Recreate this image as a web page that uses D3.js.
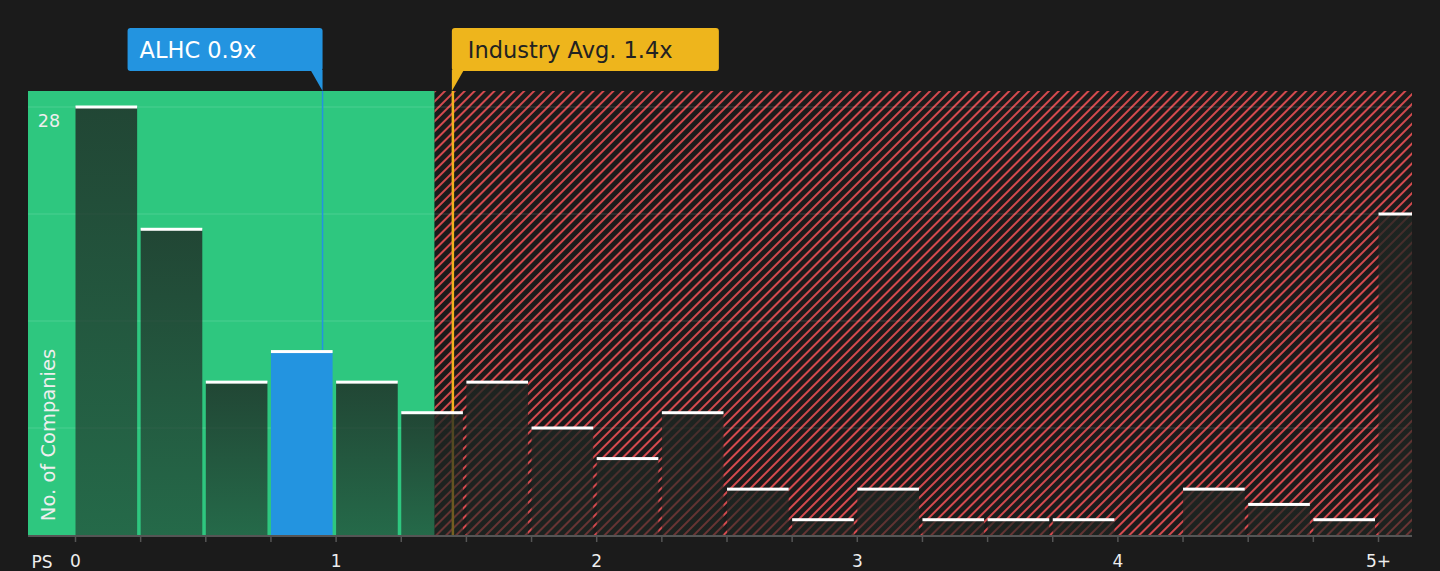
<!DOCTYPE html>
<html>
<head>
<meta charset="utf-8">
<script src="https://cdn.jsdelivr.net/npm/d3@7"></script>
<style>
  body { margin: 0; background: #1b1b1b; }
  svg { display: block; font-family: 'DejaVu Sans', sans-serif; }
</style>
</head>
<body>
<div id="chart-area"></div>
<script>
// histogram of PS ratios, bins of 0.25
var binStarts = [0, 0.25, 0.5, 0.75, 1, 1.25, 1.5, 1.75, 2, 2.25, 2.5, 2.75, 3, 3.25, 3.5, 3.75, 4, 4.25, 4.5, 4.75, 5];
var counts = [28, 20, 10, 12, 10, 8, 10, 7, 5, 8, 3, 1, 3, 1, 1, 1, 0, 3, 2, 1, 21];
var tickValues = [0, 0.25, 0.5, 0.75, 1, 1.25, 1.5, 1.75, 2, 2.25, 2.5, 2.75, 3, 3.25, 3.5, 3.75, 4, 4.25, 4.5, 4.75, 5];
var tickLabels = { 0: '0', 1: '1', 2: '2', 3: '3', 4: '4', 5: '5+' };
var gridValues = [7, 14, 21, 28];
var company = { name: 'ALHC', value: 0.95, label: 'ALHC 0.9x' };
var industry = { value: 1.45, label: 'Industry Avg. 1.4x' };
var fairLimit = 1.38;
var binWidth = 0.25;

var W = 1440, H = 571;
var plot = { left: 28, right: 1412, top: 91, bottom: 535 };

var svg = d3.select('#chart-area')
    .append('svg')
        .attr('width', W)
        .attr('height', H);

var x = d3.scaleLinear()
    .domain([0, 5])
    .range([75, 1378]);

var y = d3.scaleLinear()
    .domain([0, 28])
    .range([plot.bottom, 107]);

var defs = svg.append('defs');

var hatch = defs.append('pattern')
    .attr('id', 'hatch')
    .attr('patternUnits', 'userSpaceOnUse')
    .attr('width', 7)
    .attr('height', 7)
    .attr('patternTransform', 'rotate(45)');
hatch.append('rect').attr('width', 7).attr('height', 7).attr('fill', '#1b1b1b');
hatch.append('rect').attr('width', 2).attr('height', 7).attr('fill', '#d44a4e');

var grad = defs.append('linearGradient')
    .attr('id', 'barGrad')
    .attr('x1', 0).attr('y1', 0).attr('x2', 0).attr('y2', 1);
grad.append('stop').attr('offset', '0%').attr('stop-color', '#1e2622').attr('stop-opacity', 0.8);
grad.append('stop').attr('offset', '100%').attr('stop-color', '#1e2622').attr('stop-opacity', 0.58);

defs.append('clipPath').attr('id', 'plotClip')
    .append('rect')
        .attr('x', plot.left).attr('y', 0)
        .attr('width', plot.right - plot.left).attr('height', H);

var g = svg.append('g').attr('clip-path', 'url(#plotClip)');

// good value region (green) and overvalued region (hatched red)
g.append('rect')
    .attr('x', plot.left)
    .attr('y', plot.top)
    .attr('width', x(fairLimit) - plot.left)
    .attr('height', plot.bottom - plot.top)
    .attr('fill', '#2ec77f');

g.append('rect')
    .attr('x', x(fairLimit))
    .attr('y', plot.top)
    .attr('width', plot.right - x(fairLimit))
    .attr('height', plot.bottom - plot.top)
    .attr('fill', 'url(#hatch)');

// gridlines
g.selectAll('.grid')
    .data(gridValues)
    .enter().append('line')
    .attr('x1', plot.left).attr('x2', plot.right)
    .attr('y1', d => y(d)).attr('y2', d => y(d))
    .attr('stroke', 'rgba(255,255,255,0.14)')
    .attr('stroke-width', 1);

// marker lines (behind bars)
g.append('line')
    .attr('x1', x(company.value)).attr('x2', x(company.value))
    .attr('y1', plot.top).attr('y2', plot.bottom)
    .attr('stroke', '#2394e0').attr('stroke-width', 1.5);

g.append('line')
    .attr('x1', x(industry.value)).attr('x2', x(industry.value))
    .attr('y1', plot.top).attr('y2', plot.bottom)
    .attr('stroke', '#f0b21e').attr('stroke-width', 2.5);

// bars
var data = binStarts.map((b, i) => ({ start: b, count: counts[i] }));
var isCompany = d => company.value >= d.start && company.value < d.start + binWidth;

var bars = g.selectAll('.bar')
    .data(data.filter(d => d.count > 0))
    .enter().append('g');

bars.append('rect')
    .attr('x', d => x(d.start) + 0.5)
    .attr('y', d => y(d.count))
    .attr('width', d => x(d.start + binWidth) - x(d.start) - 3.5)
    .attr('height', d => plot.bottom - y(d.count))
    .attr('fill', d => isCompany(d) ? '#2394e0' : 'url(#barGrad)');

bars.append('rect')
    .attr('x', d => x(d.start) + 0.5)
    .attr('y', d => y(d.count) - 1.5)
    .attr('width', d => x(d.start + binWidth) - x(d.start) - 3.5)
    .attr('height', 3)
    .attr('fill', '#ffffff');

// x axis
var xAxisCall = d3.axisBottom(x)
    .tickValues(tickValues)
    .tickSize(7)
    .tickPadding(13)
    .tickFormat(d => tickLabels[d] || '');
var xAxis = svg.append('g')
    .attr('transform', 'translate(0,' + plot.bottom + ')')
    .call(xAxisCall);
xAxis.select('.domain').remove();
xAxis.selectAll('line').attr('stroke', '#555').attr('stroke-width', 1.5);
xAxis.selectAll('text')
    .attr('fill', '#eeeeee')
    .attr('font-size', '17px')
    .attr('font-family', 'DejaVu Sans, sans-serif');

svg.append('line')
    .attr('x1', plot.left).attr('x2', plot.right)
    .attr('y1', plot.bottom + 1).attr('y2', plot.bottom + 1)
    .attr('stroke', '#555').attr('stroke-width', 2);

svg.append('text')
    .attr('x', 42)
    .attr('y', 568)
    .attr('text-anchor', 'middle')
    .attr('fill', '#eeeeee')
    .attr('font-size', '17px')
    .text('PS');

// y tick label and axis title
svg.append('text')
    .attr('x', 49)
    .attr('y', y(28) + 20)
    .attr('text-anchor', 'middle')
    .attr('fill', '#eeeeee')
    .attr('font-size', '17.5px')
    .text('28');

svg.append('text')
    .attr('transform', 'translate(55,' + 435 + ') rotate(-90)')
    .attr('text-anchor', 'middle')
    .attr('fill', '#eeeeee')
    .attr('font-size', '19.5px')
    .text('No. of Companies');

// callouts
var cx = x(company.value);
svg.append('rect')
    .attr('x', cx - 195).attr('y', 28)
    .attr('width', 195).attr('height', 43)
    .attr('rx', 3)
    .attr('fill', '#2394e0');
svg.append('path')
    .attr('d', 'M' + (cx - 12) + ',70 H' + cx + ' V' + plot.top + ' Z')
    .attr('fill', '#2394e0');
svg.append('text')
    .attr('x', cx - 183)
    .attr('y', 58)
    .attr('fill', '#ffffff')
    .attr('font-size', '22.5px')
    .text(company.label);

var ix = x(industry.value) - 1;
svg.append('rect')
    .attr('x', ix).attr('y', 28)
    .attr('width', 267).attr('height', 43)
    .attr('rx', 3)
    .attr('fill', '#eeb51c');
svg.append('path')
    .attr('d', 'M' + ix + ',70 H' + (ix + 12) + ' L' + ix + ',' + plot.top + ' Z')
    .attr('fill', '#eeb51c');
svg.append('text')
    .attr('x', ix + 16)
    .attr('y', 58)
    .attr('fill', '#222222')
    .attr('font-size', '22.5px')
    .text(industry.label);
</script>
</body>
</html>
